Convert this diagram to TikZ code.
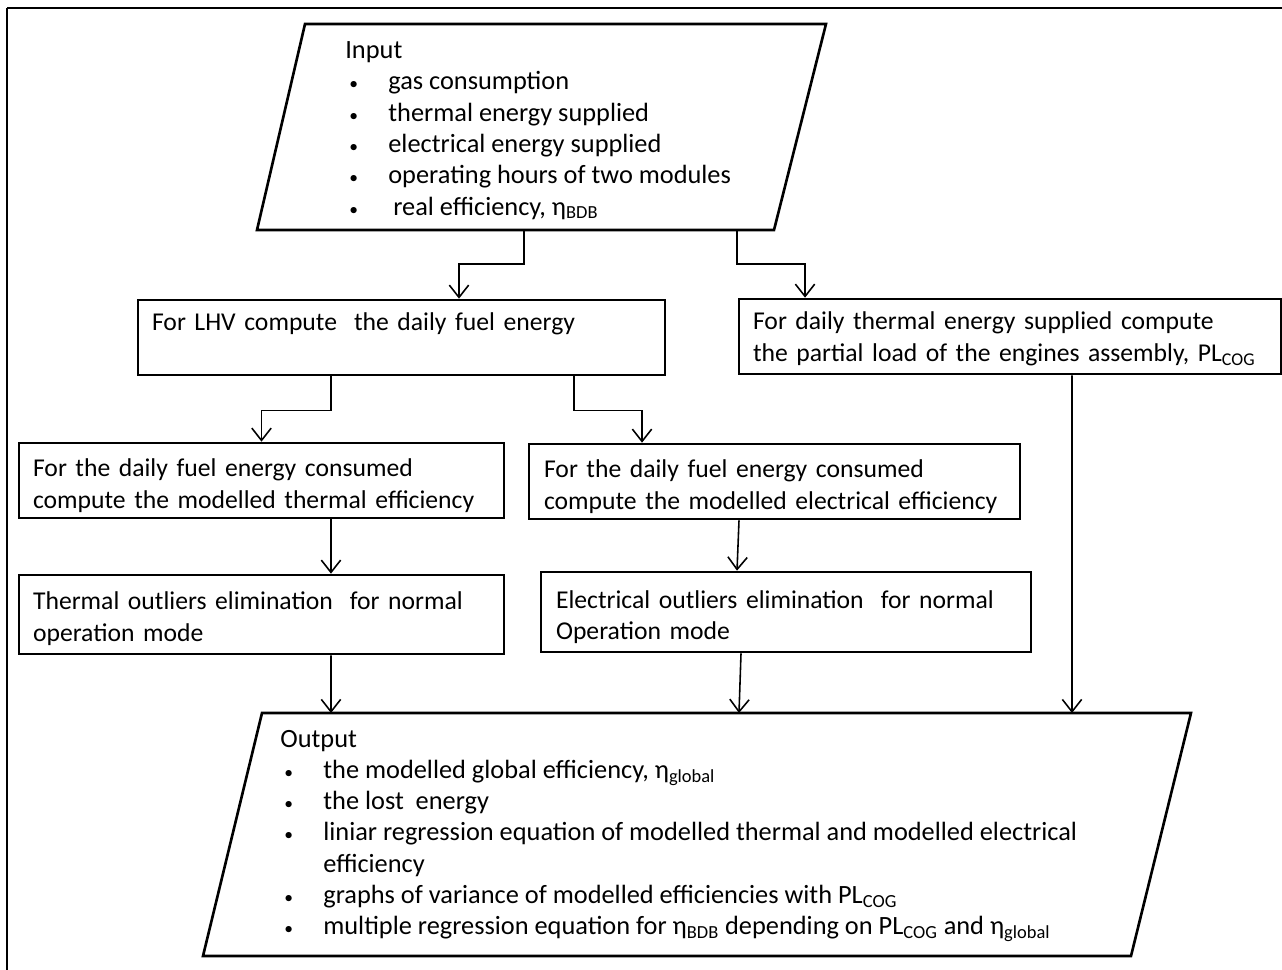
\documentclass[tikz,border=0pt]{standalone}
\usepackage{fontspec}
\setmainfont{Carlito}
\usetikzlibrary{arrows.meta,calc}
\newcommand\bitem[1]{\makebox[0.86cm][l]{\hspace{0.08cm}{\fontsize{10}{10}\selectfont\textbullet}}#1}
\newcommand\toprule[1]{\rule{0pt}{#1}}
\begin{document}
\begin{tikzpicture}[x=0.02cm,y=-0.02cm,
  pfont/.style={font=\fontsize{15}{17.8}\selectfont},
  box/.style={draw, line width=1.5pt, align=left, inner xsep=0.28cm, inner ysep=0pt, font=\fontsize{14.6}{18.2}\selectfont},
  para/.style={draw, line width=1.5pt, line join=miter},
  arr/.style={-{Straight Barb[length=7pt,width=11pt]}, line width=0.9pt},
  frame/.style={line width=1.3pt}]
\useasboundingbox (0,0) rectangle (1282,970);
% outer frame
\draw[frame] (7,8) -- (1282,8);
\draw[frame] (7,8) -- (7,970);
% input parallelogram
\draw[para] (305,24) -- (826,24) -- (774,230) -- (257,230) -- cycle;
\node[pfont, inner sep=0, align=left, anchor=west] (intext) at (345,130.5) {Input\\
\bitem{gas consumption}\\
\bitem{thermal energy supplied}\\
\bitem{electrical energy supplied}\\
\bitem{operating hours of two modules}\\
\bitem{\hspace{0.1cm}real efficiency, η\textsubscript{BDB}}};
\coordinate (inA) at (524,230);
\coordinate (inB) at (737,230);
% boxes
\node[box, text width=9.98cm, minimum height=1.5cm] (lhv) at (401.5,337.5) {For LHV compute\ \ the daily fuel energy\\ \mbox{}};
\node[box, text width=10.28cm, minimum height=1.5cm] (pl) at (1010,336.5) {\toprule{13pt}For daily thermal energy supplied compute\\the partial load of the engines assembly, PL\textsubscript{COG}};
\node[box, text width=9.14cm, minimum height=1.5cm] (theff) at (261.5,480.5) {\toprule{16pt}For the daily fuel energy consumed\\compute the modelled thermal efficiency};
\node[box, inner xsep=0.30cm, text width=9.22cm, minimum height=1.5cm] (eleff) at (774.5,481.5) {\toprule{16pt}For the daily fuel energy consumed\\compute the modelled electrical efficiency};
\node[box, text width=9.14cm, minimum height=1.58cm] (thout) at (261.5,614.5) {\toprule{15pt}Thermal outliers elimination\ \ for normal\\operation mode};
\node[box, inner xsep=0.30cm, text width=9.20cm, minimum height=1.6cm] (elout) at (786,612) {\toprule{16pt}Electrical outliers elimination\ \ for normal\\Operation mode};
% output parallelogram
\draw[para] (262,713) -- (1191,713) -- (1131,956) -- (203,956) -- cycle;
\node[pfont, inner sep=0, align=left, anchor=west] (outtext) at (280,836) {Output\\
\bitem{the modelled global efficiency, η\textsubscript{global}}\\
\bitem{the lost\ \ energy}\\
\bitem{liniar regression equation of modelled thermal and modelled electrical}\\
\makebox[0.86cm]{}efficiency\\
\bitem{graphs of variance of modelled efficiencies with PL\textsubscript{COG}}\\
\bitem{multiple regression equation for η\textsubscript{BDB} depending on PL\textsubscript{COG} and η\textsubscript{global}}};
\coordinate (o1) at (331,713);
\coordinate (o2) at (739,713);
\coordinate (o3) at (1072,713);
% connectors
\draw[arr] (inA) -- ++(0,34) -| ([xshift=1.15cm]lhv.north);
\draw[arr] (inB) -- ++(0,34) -| ([xshift=-4.1cm]pl.north);
\draw[arr] ([xshift=-1.41cm]lhv.south) -- ++(0,34) -| (theff.north);
\draw[arr] ([xshift=3.45cm]lhv.south) -- ++(0,34) -| ([xshift=-2.65cm]eleff.north);
\draw[arr] ([xshift=1.39cm]theff.south) -- ([xshift=1.39cm]thout.north);
\draw[arr] ([xshift=-0.71cm]eleff.south) -- ([xshift=-0.98cm]elout.north);
\draw[arr] ([xshift=1.39cm]thout.south) -- (o1);
\draw[arr] ([xshift=-0.9cm]elout.south) -- (o2);
\draw[arr] ([xshift=1.24cm]pl.south) -- (o3);
\end{tikzpicture}
\end{document}
